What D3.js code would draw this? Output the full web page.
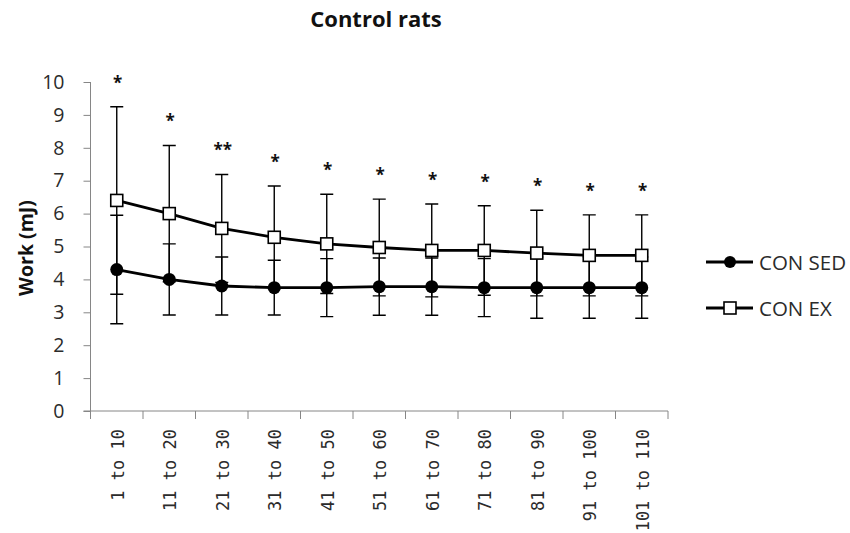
<!DOCTYPE html>
<html>
<head>
<meta charset="utf-8">
<script src="https://cdn.jsdelivr.net/npm/d3@7"></script>
<style>
  html, body { margin: 0; padding: 0; background: #fff; }
  svg { display: block; }
</style>
</head>
<body>
<svg id="chart" width="850" height="533"></svg>
<script>
// Work per block of contractions, sedentary vs exercised control rats
const categories = ["1 to 10", "11 to 20", "21 to 30", "31 to 40", "41 to 50", "51 to 60",
                    "61 to 70", "71 to 80", "81 to 90", "91 to 100", "101 to 110"];
const sedMean = [4.30, 4.00, 3.80, 3.75, 3.75, 3.78, 3.78, 3.75, 3.75, 3.75, 3.75];
const sedErr  = [1.65, 1.08, 0.88, 0.83, 0.88, 0.87, 0.87, 0.88, 0.93, 0.93, 0.93];
const exMean  = [6.40, 6.00, 5.55, 5.28, 5.08, 4.97, 4.88, 4.88, 4.80, 4.73, 4.73];
const exErr   = [2.85, 2.07, 1.64, 1.56, 1.51, 1.47, 1.41, 1.36, 1.30, 1.23, 1.23];
const stars   = ["*", "*", "**", "*", "*", "*", "*", "*", "*", "*", "*"];
const yTicks  = [0, 1, 2, 3, 4, 5, 6, 7, 8, 9, 10];
const seriesNames = ["CON SED", "CON EX"];

const svg = d3.select("#chart");
const axisColor = "#868686";
const textColor = "#2b2b2b";
const sansFont = "'Open Sans', 'Noto Sans', sans-serif";
const monoFont = "'DejaVu Sans Mono', 'Liberation Mono', monospace";

const x = d3.scaleBand().domain(categories).range([90.5, 668]).paddingInner(0).paddingOuter(0);
const y = d3.scaleLinear().domain([0, 10]).range([411, 82]);
const cx = d => x(d) + x.bandwidth() / 2;

// Title
svg.append("text")
  .attr("x", 376).attr("y", 27)
  .attr("text-anchor", "middle")
  .style("font-family", sansFont).style("font-weight", "bold").style("font-size", "22px")
  .style("fill", "#111")
  .text("Control rats");

// Y axis
const yAxis = svg.append("g")
  .attr("transform", `translate(${x.range()[0]},0)`)
  .call(d3.axisLeft(y).tickValues(yTicks).tickSize(7).tickPadding(19).tickFormat(d3.format("d")));
yAxis.select(".domain").attr("stroke", axisColor).attr("d", `M-0,${y(10)}V${y(0) + 8}`);
yAxis.selectAll(".tick line").attr("stroke", axisColor);
yAxis.selectAll(".tick text")
  .style("font-family", sansFont).style("font-size", "19.5px").style("fill", textColor);

// Y axis title
svg.append("text")
  .attr("transform", "translate(25,248) rotate(-90)")
  .attr("text-anchor", "middle")
  .attr("dominant-baseline", "central")
  .style("font-family", sansFont).style("font-weight", "bold").style("font-size", "19.5px")
  .style("fill", "#111")
  .text("Work (mJ)");

// X axis: baseline, boundary ticks between categories, rotated labels
const xg = svg.append("g");
xg.append("line")
  .attr("x1", x.range()[0] - 7).attr("x2", x.range()[1])
  .attr("y1", y(0)).attr("y2", y(0))
  .attr("stroke", axisColor);
xg.selectAll("line.bound")
  .data(categories)
  .join("line")
  .attr("class", "bound")
  .attr("x1", d => x(d) + x.bandwidth())
  .attr("x2", d => x(d) + x.bandwidth())
  .attr("y1", y(0)).attr("y2", y(0) + 8)
  .attr("stroke", axisColor);
xg.selectAll("text.cat")
  .data(categories)
  .join("text")
  .attr("class", "cat")
  .attr("transform", d => `translate(${cx(d) + 1},${y(0) + 18}) rotate(-90)`)
  .attr("text-anchor", "end")
  .attr("dominant-baseline", "central")
  .style("font-family", monoFont).style("font-size", "17px").style("fill", textColor)
  .text(d => d);

// Series records built from the arrays
const sed = categories.map((c, i) => ({ c, v: sedMean[i], e: sedErr[i] }));
const ex  = categories.map((c, i) => ({ c, v: exMean[i], e: exErr[i], s: stars[i] }));

const capHalf = 6.5;
function errorBars(data) {
  const g = svg.append("g").attr("stroke", "#000").attr("stroke-width", 1.4).attr("fill", "none");
  g.selectAll("path")
    .data(data)
    .join("path")
    .attr("d", d => {
      const px = cx(d.c), top = y(d.v + d.e), bot = y(d.v - d.e);
      return `M${px},${top}V${bot}M${px - capHalf},${top}H${px + capHalf}M${px - capHalf},${bot}H${px + capHalf}`;
    });
}
errorBars(ex);
errorBars(sed);

const line = d3.line().x(d => cx(d.c)).y(d => y(d.v));
svg.append("path").datum(ex).attr("d", line)
  .attr("fill", "none").attr("stroke", "#000").attr("stroke-width", 2.8);
svg.append("path").datum(sed).attr("d", line)
  .attr("fill", "none").attr("stroke", "#000").attr("stroke-width", 2.8);

// Markers
const sq = 12;
svg.append("g").selectAll("rect")
  .data(ex)
  .join("rect")
  .attr("x", d => cx(d.c) - sq / 2).attr("y", d => y(d.v) - sq / 2)
  .attr("width", sq).attr("height", sq)
  .attr("fill", "#fff").attr("stroke", "#000").attr("stroke-width", 1.6);
svg.append("g").selectAll("circle")
  .data(sed)
  .join("circle")
  .attr("cx", d => cx(d.c)).attr("cy", d => y(d.v))
  .attr("r", 6.5)
  .attr("fill", "#000");

// Significance markers above the upper error bars
svg.append("g").selectAll("text")
  .data(ex)
  .join("text")
  .attr("x", d => cx(d.c) + 1)
  .attr("y", d => y(d.v + d.e) - 18)
  .attr("text-anchor", "middle")
  .style("font-family", sansFont).style("font-size", "17px").style("font-weight", "bold")
  .style("fill", "#111")
  .text(d => d.s);

// Legend
const legend = svg.append("g");
const legY = [262, 308];
const lx0 = 706, lx1 = 753, lmx = 730;
seriesNames.forEach((name, i) => {
  const g = legend.append("g");
  g.append("line")
    .attr("x1", lx0).attr("x2", lx1).attr("y1", legY[i]).attr("y2", legY[i])
    .attr("stroke", "#000").attr("stroke-width", 2.8);
  if (i === 0) {
    g.append("circle").attr("cx", lmx).attr("cy", legY[i]).attr("r", 6).attr("fill", "#000");
  } else {
    g.append("rect")
      .attr("x", lmx - sq / 2).attr("y", legY[i] - sq / 2).attr("width", sq).attr("height", sq)
      .attr("fill", "#fff").attr("stroke", "#000").attr("stroke-width", 1.6);
  }
  g.append("text")
    .attr("x", 759).attr("y", legY[i] + 8)
    .style("font-family", sansFont).style("font-size", "20.5px").style("fill", textColor)
    .text(name);
});
</script>
</body>
</html>
